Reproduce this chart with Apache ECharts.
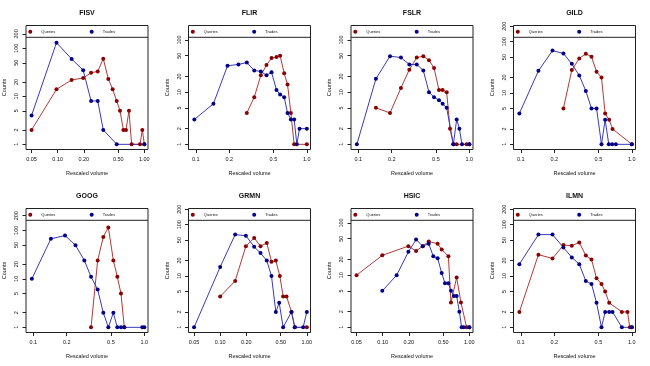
<!DOCTYPE html>
<html>
<head>
<meta charset="utf-8">
<script src="https://cdn.jsdelivr.net/npm/echarts@6/dist/echarts.min.js"></script>
<style>html,body{margin:0;padding:0;background:#fff}#c{width:650px;height:366px}</style>
</head>
<body>
<div id="c"></div>
<script>
// ---------- data ----------
const panelNames = ['FISV','FLIR','FSLR','GILD','GOOG','GRMN','HSIC','ILMN'];

const FISV_q_x = [0.05, 0.097, 0.145, 0.197, 0.243, 0.29, 0.336, 0.384, 0.431, 0.48, 0.524, 0.573, 0.614, 0.665, 0.714, 0.891, 0.948, 1.0];
const FISV_q_y = [2, 14, 22, 24, 31, 33, 61, 23, 14, 8, 5, 2, 2, 5, 1, 1, 2, 1];
const FISV_t_x = [0.05, 0.097, 0.145, 0.197, 0.243, 0.29, 0.336, 0.48, 1.0];
const FISV_t_y = [4, 131, 60, 35, 8, 8, 2, 1, 1];

const FLIR_q_x = [0.288, 0.336, 0.385, 0.433, 0.481, 0.533, 0.575, 0.625, 0.670, 0.718, 0.769, 1.0];
const FLIR_q_y = [4, 8, 21, 33, 45, 47, 50, 23, 14, 4, 1, 1];
const FLIR_t_x = [0.097, 0.144, 0.193, 0.242, 0.288, 0.336, 0.385, 0.433, 0.481, 0.533, 0.575, 0.625, 0.670, 0.718, 0.769, 0.813, 0.859, 1.0];
const FLIR_t_y = [3, 6, 32, 34, 37, 26, 25, 21, 24, 11, 9, 8, 4, 3, 3, 1, 2, 2];

const FSLR_q_x = [0.144, 0.193, 0.242, 0.288, 0.336, 0.385, 0.433, 0.481, 0.533, 0.575, 0.625, 0.670, 0.718, 0.769, 0.946, 1.0];
const FSLR_q_y = [5, 4, 12, 27, 46, 49, 41, 29, 11, 11, 10, 2, 1, 1, 1, 1];
const FSLR_t_x = [0.097, 0.144, 0.193, 0.242, 0.288, 0.336, 0.385, 0.433, 0.481, 0.533, 0.575, 0.625, 0.718, 0.769, 0.813, 0.859, 1.0];
const FSLR_t_y = [1, 18, 49, 46, 34, 34, 26, 10, 8, 7, 6, 5, 1, 3, 2, 1, 1];

const GILD_q_x = [0.242, 0.288, 0.336, 0.385, 0.433, 0.481, 0.533, 0.575, 0.625, 0.670, 1.0];
const GILD_q_y = [5, 28, 47, 58, 51, 26, 20, 4, 3, 2, 1];
const GILD_t_x = [0.097, 0.144, 0.193, 0.242, 0.288, 0.336, 0.385, 0.433, 0.481, 0.533, 0.575, 0.62, 0.665, 0.718, 1.0];
const GILD_t_y = [4, 27, 67, 59, 37, 22, 11, 5, 5, 1, 3, 1, 1, 1, 1];

const GOOG_q_x = [0.331, 0.38, 0.427, 0.474, 0.526, 0.571, 0.616, 0.66];
const GOOG_q_y = [1, 24, 73, 115, 24, 11, 5, 1];
const GOOG_t_x = [0.097, 0.144, 0.193, 0.24, 0.288, 0.331, 0.38, 0.427, 0.474, 0.526, 0.571, 0.616, 0.66, 0.959, 1.0];
const GOOG_t_y = [10, 67, 78, 49, 24, 11, 6, 2, 1, 2, 1, 1, 1, 1, 1];

const GRMN_q_x = [0.1, 0.149, 0.198, 0.247, 0.292, 0.345, 0.391, 0.439, 0.488, 0.533, 0.583, 0.665, 0.727, 1.0];
const GRMN_q_y = [4, 8, 38, 55, 38, 44, 19, 20, 10, 4, 4, 2, 1, 1];
const GRMN_t_x = [0.05, 0.1, 0.149, 0.198, 0.247, 0.292, 0.345, 0.391, 0.439, 0.48, 0.533, 0.665, 0.727, 0.907, 1.0];
const GRMN_t_y = [1, 15, 64, 61, 37, 28, 20, 10, 2, 3, 1, 2, 1, 1, 2];

const HSIC_q_x = [0.05, 0.099, 0.198, 0.243, 0.29, 0.34, 0.431, 0.48, 0.573, 0.614, 0.714, 0.80, 0.93, 1.0];
const HSIC_q_y = [10, 24, 36, 29, 36, 44, 40, 31, 23, 3, 9, 3, 1, 1];
const HSIC_t_x = [0.099, 0.145, 0.198, 0.243, 0.29, 0.34, 0.384, 0.431, 0.48, 0.524, 0.573, 0.614, 0.665, 0.714, 0.767, 0.815, 0.86, 1.0];
const HSIC_t_y = [5, 10, 28, 48, 36, 40, 23, 21, 11, 7, 7, 5, 4, 4, 2, 1, 1, 1];

const ILMN_q_x = [0.097, 0.144, 0.193, 0.242, 0.288, 0.336, 0.385, 0.433, 0.481, 0.533, 0.575, 0.625, 0.813, 0.914, 0.959, 1.0];
const ILMN_q_y = [2, 26, 22, 40, 39, 45, 25, 21, 9, 7, 5, 3, 2, 2, 1, 1];
const ILMN_t_x = [0.097, 0.144, 0.193, 0.242, 0.288, 0.336, 0.385, 0.433, 0.481, 0.533, 0.575, 0.625, 0.670, 0.813, 1.0];
const ILMN_t_y = [17, 64, 64, 36, 23, 17, 8, 7, 3, 1, 2, 2, 2, 1, 1];

const queriesX = [FISV_q_x, FLIR_q_x, FSLR_q_x, GILD_q_x, GOOG_q_x, GRMN_q_x, HSIC_q_x, ILMN_q_x];
const queriesY = [FISV_q_y, FLIR_q_y, FSLR_q_y, GILD_q_y, GOOG_q_y, GRMN_q_y, HSIC_q_y, ILMN_q_y];
const tradesX  = [FISV_t_x, FLIR_t_x, FSLR_t_x, GILD_t_x, GOOG_t_x, GRMN_t_x, HSIC_t_x, ILMN_t_x];
const tradesY  = [FISV_t_y, FLIR_t_y, FSLR_t_y, GILD_t_y, GOOG_t_y, GRMN_t_y, HSIC_t_y, ILMN_t_y];

// tick labels
const xTicksWide = [0.05, 0.1, 0.2, 0.5, 1.0];
const xTickLabelsWide = ['0.05', '0.10', '0.20', '0.50', '1.00'];
const xTicksNarrow = [0.1, 0.2, 0.5, 1.0];
const xTickLabelsNarrow = ['0.1', '0.2', '0.5', '1.0'];
const yTicks = [1, 2, 5, 10, 20, 50, 100, 200];
const yTickLabels = ['1', '2', '5', '10', '20', '50', '100', '200'];
const wideXPanels = [true, false, false, false, false, true, true, false];

// ---------- layout (px) ----------
const colW = 162.5, rowH = 183;
const plotL0 = 26, plotT0 = 25.5, plotW = 122, plotH = 124;
const onePosX = 118.33;   // distance from plot left to x = 1.0
const onePosY = 118.83;   // distance from plot top to y = 1
// pixels per decade for each panel
const pxDecX = [86.67, 111, 111, 111, 111, 86.67, 86.67, 111];
const pxDecY = [48, 52.17, 52.17, 51.33, 48.5, 51.33, 52.17, 51.33];

const FONT = 'Liberation Sans, Arial, Helvetica, sans-serif';
const TXT = '#111';
const qLine = '#b23a3a', qPt = '#8b0000';
const tLine = '#3a3ab8', tPt = '#00008b';

function fmt(ticks, labels) {
  return function (v) {
    for (let k = 0; k < ticks.length; k++) {
      if (Math.abs(Math.log10(v) - Math.log10(ticks[k])) < 1e-4) return labels[k];
    }
    return '';
  };
}

const grids = [], xAxes = [], yAxes = [], series = [], titles = [], legends = [], graphics = [];

panelNames.forEach((name, i) => {
  const c = i % 4, r = Math.floor(i / 4);
  const left = plotL0 + c * colW, top = plotT0 + r * rowH;
  grids.push({ left: left, top: top, width: plotW, height: plotH, show: true,
    borderColor: '#222', borderWidth: 1, backgroundColor: 'transparent' });

  const xmin = Math.pow(10, -onePosX / pxDecX[i]);
  const xmax = Math.pow(10, (plotW - onePosX) / pxDecX[i]);
  const ymin = Math.pow(10, -(plotH - onePosY) / pxDecY[i]);
  const ymax = Math.pow(10, onePosY / pxDecY[i]);

  const xt = wideXPanels[i] ? xTicksWide : xTicksNarrow;
  const xl = wideXPanels[i] ? xTickLabelsWide : xTickLabelsNarrow;
  const yt = yTicks.filter(v => v >= ymin && v <= ymax);

  xAxes.push({
    type: 'log', logBase: 10, gridIndex: i, min: xmin, max: xmax,
    axisLine: { show: false }, splitLine: { show: false }, minorTick: { show: false },
    axisTick: { show: true, inside: false, length: 3.5, lineStyle: { color: '#222', width: 1 }, customValues: xt },
    axisLabel: { customValues: xt, formatter: fmt(xt, xl), fontSize: 5.5, color: TXT, margin: 6.5, fontFamily: FONT },
    name: 'Rescaled volume', nameLocation: 'middle', nameGap: 20.5,
    nameTextStyle: { fontSize: 5.5, color: TXT, fontFamily: FONT }
  });
  yAxes.push({
    type: 'log', logBase: 10, gridIndex: i, min: ymin, max: ymax,
    axisLine: { show: false }, splitLine: { show: false }, minorTick: { show: false },
    axisTick: { show: true, inside: false, length: 3.5, lineStyle: { color: '#222', width: 1 }, customValues: yt },
    axisLabel: { customValues: yt, formatter: fmt(yTicks, yTickLabels), fontSize: 5.5, color: TXT, margin: 6.5, rotate: 90, fontFamily: FONT },
    name: 'Counts', nameLocation: 'middle', nameGap: 18.5,
    nameTextStyle: { fontSize: 5.5, color: TXT, fontFamily: FONT }
  });

  series.push({
    type: 'line', name: 'Queries', xAxisIndex: i, yAxisIndex: i,
    data: queriesX[i].map((x, k) => [x, queriesY[i][k]]),
    symbol: 'circle', symbolSize: 4, showSymbol: true,
    lineStyle: { color: qLine, width: 1 }, itemStyle: { color: qPt },
    emphasis: { disabled: true }, silent: true
  });
  series.push({
    type: 'line', name: 'Trades', xAxisIndex: i, yAxisIndex: i,
    data: tradesX[i].map((x, k) => [x, tradesY[i][k]]),
    symbol: 'circle', symbolSize: 4, showSymbol: true,
    lineStyle: { color: tLine, width: 1 }, itemStyle: { color: tPt },
    emphasis: { disabled: true }, silent: true
  });

  titles.push({ text: name, left: left + plotW / 2, top: r * rowH + 9.6, textAlign: 'center', padding: 0,
    textStyle: { fontSize: 7, fontWeight: 'bold', color: TXT, fontFamily: FONT } });

  const legCommon = { icon: 'circle', itemWidth: 12, itemHeight: 4, padding: 0, itemGap: 0,
    selectedMode: false, textStyle: { fontSize: 4, color: TXT, fontFamily: FONT } };
  legends.push(Object.assign({ data: ['Queries'], left: left + 2.3, top: top + 4.3 }, legCommon));
  legends.push(Object.assign({ data: ['Trades'], left: left + 63.7, top: top + 4.3 }, legCommon));

  graphics.push({ type: 'line', silent: true, z: 10,
    shape: { x1: left, y1: top + 11.8, x2: left + plotW, y2: top + 11.8 },
    style: { stroke: '#222', lineWidth: 1 } });
});

const chart = echarts.init(document.getElementById('c'), null, { renderer: 'canvas' });
chart.setOption({
  animation: false,
  backgroundColor: '#fff',
  title: titles,
  legend: legends,
  grid: grids,
  xAxis: xAxes,
  yAxis: yAxes,
  series: series,
  graphic: graphics
});
</script>
</body>
</html>
